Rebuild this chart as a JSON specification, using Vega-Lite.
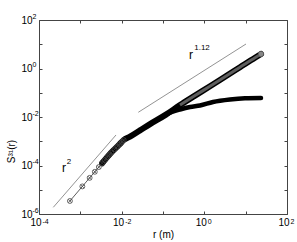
{
  "$schema": "https://vega.github.io/schema/vega-lite/v6.json",
  "width": 248,
  "height": 194,
  "autosize": {"type": "none"},
  "padding": {"left": 39, "top": 20, "right": 10, "bottom": 28},
  "background": "white",
  "config": {
    "view": {"stroke": "#444", "strokeWidth": 1},
    "font": "Liberation Sans",
    "axis": {"grid": false, "domain": false, "tickColor": "#444", "tickSize": -3, "labelFont": "Liberation Sans", "labelFontSize": 10, "labelColor": "#000", "titleFont": "Liberation Sans", "titleFontSize": 10, "titleFontWeight": "normal", "titleColor": "#000", "labelOverlap": false, "labelFlush": false, "offset": 0}
  },
  "datasets": {
    "markers": [
      {"r": 5.6e-4, "S": 3.44e-6},
      {"r": 1.12e-3, "S": 1.375e-5},
      {"r": 1.68e-3, "S": 3.095e-5},
      {"r": 2.24e-3, "S": 5.5e-5},
      {"r": 2.8e-3, "S": 8.6e-5},
      {"r": 3.36e-3, "S": 1.238e-4},
      {"r": 3.92e-3, "S": 1.685e-4},
      {"r": 4.48e-3, "S": 2.201e-4},
      {"r": 5.04e-3, "S": 2.785e-4},
      {"r": 5.6e-3, "S": 3.439e-4},
      {"r": 6.72e-3, "S": 4.677e-4},
      {"r": 7.84e-3, "S": 6.026e-4},
      {"r": 8.96e-3, "S": 7.586e-4},
      {"r": 1.008e-2, "S": 9.333e-4},
      {"r": 1.12e-2, "S": 1.122e-3}
    ],
    "upper": [
      {"r": 3.36e-3, "S": 1.238e-4},
      {"r": 5.6e-3, "S": 3.439e-4},
      {"r": 8.96e-3, "S": 7.586e-4},
      {"r": 1.12e-2, "S": 1.122e-3},
      {"r": 0.01591, "S": 1.54e-3},
      {"r": 0.02778, "S": 2.802e-3},
      {"r": 0.04846, "S": 5.095e-3},
      {"r": 0.1177, "S": 0.01256},
      {"r": 0.2578, "S": 0.03095},
      {"r": 0.5944, "S": 0.07628},
      {"r": 1.371, "S": 0.1862},
      {"r": 3.162, "S": 0.459},
      {"r": 7.293, "S": 1.131},
      {"r": 16.82, "S": 2.789},
      {"r": 23.5, "S": 3.963}
    ],
    "lower": [
      {"r": 0.1177, "S": 0.01256},
      {"r": 0.1651, "S": 0.01607},
      {"r": 0.2578, "S": 0.02039},
      {"r": 0.4498, "S": 0.02585},
      {"r": 0.7856, "S": 0.0298},
      {"r": 1.621, "S": 0.04156},
      {"r": 4.178, "S": 0.05267},
      {"r": 9.636, "S": 0.05903},
      {"r": 23.5, "S": 0.06074}
    ],
    "ends": [
      {"r": 23.5, "S": 3.963}
    ],
    "refs": [
      {"g": "a", "r": 2.218e-4, "S": 1.889e-6},
      {"g": "a", "r": 7.295e-3, "S": 1.811e-3},
      {"g": "b", "r": 0.02526, "S": 0.01563},
      {"g": "b", "r": 10.19, "S": 10.24}
    ],
    "base": [
      {"r": 4.0e-4, "S": 8.0e-5, "t": "r"},
      {"r": 0.4757, "S": 3.604, "t": "r"}
    ],
    "sups": [
      {"r": 5.3e-4, "S": 1.393e-4, "t": "2"},
      {"r": 0.878, "S": 6.81, "t": "1.12"}
    ]
  },
  "resolve": {"axis": {"x": "independent", "y": "independent"}},
  "layer": [
    {
      "data": {"name": "refs"},
      "mark": {"type": "line", "color": "#777", "strokeWidth": 0.8},
      "encoding": {
        "x": {"field": "r", "type": "quantitative", "scale": {"type": "log", "domain": [1e-4, 100], "nice": false},
              "axis": {"orient": "bottom", "values": [1e-4, 1e-3, 0.01, 0.1, 1, 10, 100], "title": "r (m)", "labelPadding": 6, "titlePadding": 2, "labelAlign": "right", "labelOffset": 2,
                       "labelExpr": "round(log(datum.value)/LN10) % 2 == 0 ? '10' : ''"}},
        "y": {"field": "S", "type": "quantitative", "scale": {"type": "log", "domain": [1e-6, 100], "nice": false},
              "axis": {"orient": "left", "values": [1e-6, 1e-5, 1e-4, 1e-3, 0.01, 0.1, 1, 10, 100], "title": "S³¹(r)", "titleY": 131, "titleAlign": "center", "labelPadding": 10, "titlePadding": 4,
                       "labelExpr": "round(log(datum.value)/LN10) % 2 == 0 ? '10' : ''"}},
        "detail": {"field": "g"}
      }
    },
    {
      "data": {"name": "markers"},
      "mark": {"type": "line", "color": "#333", "strokeWidth": 0.8},
      "encoding": {
        "x": {"field": "r", "type": "quantitative", "scale": {"type": "log", "domain": [1e-4, 100], "nice": false},
              "axis": {"orient": "top", "values": [1e-4, 1e-3, 0.01, 0.1, 1, 10, 100], "labels": false, "title": null}},
        "y": {"field": "S", "type": "quantitative", "scale": {"type": "log", "domain": [1e-6, 100], "nice": false},
              "axis": {"orient": "right", "values": [1e-6, 1e-5, 1e-4, 1e-3, 0.01, 0.1, 1, 10, 100], "labels": false, "title": null}}
      }
    },
    {
      "data": {"name": "lower"},
      "mark": {"type": "line", "color": "#000", "strokeWidth": 4.5, "interpolate": "monotone", "strokeCap": "round"},
      "encoding": {
        "x": {"field": "r", "type": "quantitative", "scale": {"type": "log", "domain": [1e-4, 100], "nice": false},
              "axis": {"orient": "bottom", "values": [1e-4, 0.01, 1, 100], "ticks": false, "title": null, "labelFontSize": 7, "labelAlign": "left", "labelOffset": 3, "labelPadding": 3,
                       "labelExpr": "'' + round(log(datum.value)/LN10)"}},
        "y": {"field": "S", "type": "quantitative", "scale": {"type": "log", "domain": [1e-6, 100], "nice": false},
              "axis": {"orient": "left", "values": [1e-6, 1e-4, 0.01, 1, 100], "ticks": false, "title": null, "labelFontSize": 7, "labelAlign": "left", "labelOffset": -4, "labelPadding": 7,
                       "labelExpr": "'' + round(log(datum.value)/LN10)"}}
      }
    },
    {
      "data": {"name": "upper"},
      "mark": {"type": "line", "color": "#000", "strokeWidth": 6, "interpolate": "monotone", "strokeCap": "round"},
      "encoding": {
        "x": {"field": "r", "type": "quantitative", "scale": {"type": "log", "domain": [1e-4, 100], "nice": false}, "axis": null},
        "y": {"field": "S", "type": "quantitative", "scale": {"type": "log", "domain": [1e-6, 100], "nice": false}, "axis": null}
      }
    },
    {
      "data": {"name": "upper"},
      "transform": [{"filter": "datum.r >= 0.2"}],
      "mark": {"type": "line", "color": "#5e5e5e", "strokeWidth": 3, "interpolate": "monotone"},
      "encoding": {
        "x": {"field": "r", "type": "quantitative", "scale": {"type": "log", "domain": [1e-4, 100], "nice": false}, "axis": null},
        "y": {"field": "S", "type": "quantitative", "scale": {"type": "log", "domain": [1e-6, 100], "nice": false}, "axis": null}
      }
    },
    {
      "data": {"name": "markers"},
      "mark": {"type": "point", "shape": "circle", "filled": false, "size": 24, "stroke": "#444", "strokeWidth": 0.8, "opacity": 1},
      "encoding": {
        "x": {"field": "r", "type": "quantitative", "scale": {"type": "log", "domain": [1e-4, 100], "nice": false}, "axis": null},
        "y": {"field": "S", "type": "quantitative", "scale": {"type": "log", "domain": [1e-6, 100], "nice": false}, "axis": null}
      }
    },
    {
      "data": {"name": "markers"},
      "mark": {"type": "point", "shape": "M-0.7,-0.7L0.7,0.7M-0.7,0.7L0.7,-0.7", "filled": false, "size": 24, "stroke": "#444", "strokeWidth": 0.7, "opacity": 1},
      "encoding": {
        "x": {"field": "r", "type": "quantitative", "scale": {"type": "log", "domain": [1e-4, 100], "nice": false}, "axis": null},
        "y": {"field": "S", "type": "quantitative", "scale": {"type": "log", "domain": [1e-6, 100], "nice": false}, "axis": null}
      }
    },
    {
      "data": {"name": "ends"},
      "mark": {"type": "point", "shape": "circle", "filled": true, "size": 30, "fill": "#888", "stroke": "#555", "strokeWidth": 0.8, "opacity": 1},
      "encoding": {
        "x": {"field": "r", "type": "quantitative", "scale": {"type": "log", "domain": [1e-4, 100], "nice": false}, "axis": null},
        "y": {"field": "S", "type": "quantitative", "scale": {"type": "log", "domain": [1e-6, 100], "nice": false}, "axis": null}
      }
    },
    {
      "data": {"name": "base"},
      "mark": {"type": "text", "fontSize": 12, "font": "Liberation Sans", "align": "center", "baseline": "middle", "color": "#000"},
      "encoding": {
        "x": {"field": "r", "type": "quantitative", "scale": {"type": "log", "domain": [1e-4, 100], "nice": false}, "axis": null},
        "y": {"field": "S", "type": "quantitative", "scale": {"type": "log", "domain": [1e-6, 100], "nice": false}, "axis": null},
        "text": {"field": "t"}
      }
    },
    {
      "data": {"name": "sups"},
      "mark": {"type": "text", "fontSize": 8, "font": "Liberation Sans", "align": "center", "baseline": "middle", "color": "#000"},
      "encoding": {
        "x": {"field": "r", "type": "quantitative", "scale": {"type": "log", "domain": [1e-4, 100], "nice": false}, "axis": null},
        "y": {"field": "S", "type": "quantitative", "scale": {"type": "log", "domain": [1e-6, 100], "nice": false}, "axis": null},
        "text": {"field": "t"}
      }
    }
  ]
}
